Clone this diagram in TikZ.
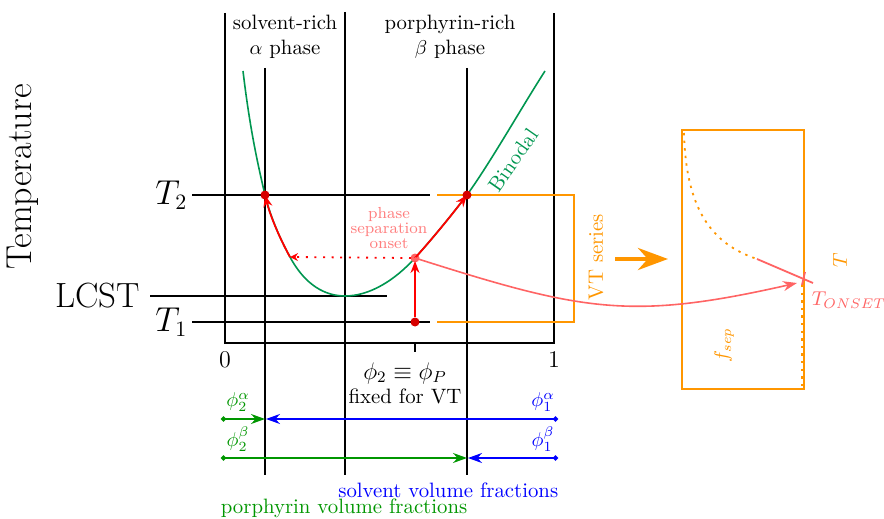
\documentclass[tikz,border=0pt]{standalone}
\usetikzlibrary{arrows.meta}
\definecolor{binodal}{RGB}{0,150,80}
\definecolor{fgreen}{RGB}{0,150,0}
\definecolor{vtorange}{RGB}{255,150,0}
\definecolor{salmon}{RGB}{255,100,100}
\definecolor{onsettext}{RGB}{255,125,125}
\definecolor{darkdot}{RGB}{215,0,0}
\begin{document}
\fontsize{10.4}{12.5}\selectfont
\begin{tikzpicture}[x=0.5pt,y=-0.5pt,line width=0.8pt,
  axisline/.style={black,line width=0.8pt},
  binodalline/.style={binodal,line width=0.8pt},
  redarrow/.style={red,line width=0.9pt,-{Stealth[length=6pt,width=4.5pt]}},
  reddot/.style={circle,fill=darkdot,inner sep=0pt,minimum size=4.5pt},
  onsetdot/.style={circle,fill=salmon,inner sep=0pt,minimum size=4.5pt},
  orangeline/.style={vtorange,line width=1pt},
  fracgreen/.style={fgreen,line width=0.8pt,{Circle[length=2.5pt]}-{Stealth[length=7pt,width=5pt]}},
  fracblue/.style={blue,line width=0.8pt,{Circle[length=2.5pt]}-{Stealth[length=7pt,width=5pt]}},
  bigtext/.style={font=\fontsize{16}{19}\selectfont,inner sep=1pt},
  hugetext/.style={font=\fontsize{18}{21}\selectfont,inner sep=1pt},
  smalldot/.style={dash pattern=on 1pt off 3.3pt}
]
\useasboundingbox (0,0) rectangle (884,519);

% ---------- coordinates ----------
\coordinate (fl1) at (225,13);  \coordinate (fl2) at (225,343);
\coordinate (fr1) at (554,13);  \coordinate (fr2) at (554,343);
\coordinate (m1) at (345,12);   \coordinate (m2) at (345,475);
\coordinate (al1) at (265,68);  \coordinate (al2) at (265,475);
\coordinate (be1) at (467,68);  \coordinate (be2) at (467,475);
\coordinate (tk1) at (415,343); \coordinate (tk2) at (415,352);
\coordinate (t2a) at (192,195); \coordinate (t2b) at (430,195);
\coordinate (t1a) at (192,322); \coordinate (t1b) at (430,322);
\coordinate (la) at (150,296);  \coordinate (lb) at (387,296);
\coordinate (b0) at (243,71);
\coordinate (b1) at (265,195);
\coordinate (b2) at (290,257);
\coordinate (b3) at (345,296);
\coordinate (b4) at (415,258);
\coordinate (b5) at (467,195);
\coordinate (b6) at (545,71);

% ---------- frame and grid lines ----------
\draw[axisline] (fl1) -- (fl2) -- (fr2) -- (fr1);
\draw[axisline] (m1) -- (m2);
\draw[axisline] (al1) -- (al2);
\draw[axisline] (be1) -- (be2);
\draw[axisline] (tk1) -- (tk2);
\draw[axisline] (t2a) -- (t2b);
\draw[axisline] (t1a) -- (t1b);
\draw[axisline] (la) -- (lb);

% ---------- binodal ----------
\draw[binodalline] (b0) .. controls (250,130) and (258,165) .. (b1)
  .. controls (270,215) and (279,237) .. (b2)
  .. controls (305,285) and (325,296) .. (b3)
  .. controls (370,296) and (395,280) .. (b4)
  .. controls (433,238) and (450,217) .. (b5)
  .. controls (492,160) and (520,110) .. (b6);
\node[binodal,rotate=55,inner sep=1pt] (binlab) at (513,160) {Binodal};

% ---------- orange VT box ----------
\coordinate (o1) at (437,195); \coordinate (o2) at (574,195);
\coordinate (o3) at (574,322); \coordinate (o4) at (437,322);
\draw[orangeline] (o1) -- (o2) -- (o3) -- (o4);
\node[vtorange,rotate=90] (vts) at (596,257) {VT series};

% ---------- red path ----------
\node[reddot] (p1) at (415,322) {};
\node[onsetdot] (pon) at (b4) {};
\draw[redarrow] (p1) -- (415,261) coordinate (p1e);
\draw[redarrow] (b4) .. controls (433,238) and (450,217) .. (b5);
\draw[redarrow] (b2) .. controls (279,237) and (270,215) .. (b1);
\draw[red,line width=0.9pt,smalldot,-{Stealth[length=4pt,width=4pt]}] (411,258) -- (b2);
\node[reddot] (pb) at (b5) {};
\node[reddot] (pa) at (b1) {};
\node[onsettext,font=\footnotesize,align=center,inner sep=0pt] (onsetlab) at (389,228)
  {phase\\[-2pt]separation\\[-2pt]onset};

% ---------- right panel ----------
\coordinate (r1) at (682,130); \coordinate (r2) at (804,389);
\draw[orangeline] (r1) rectangle (r2);
\coordinate (c0) at (684,133); \coordinate (c1) at (757,259);
\coordinate (c2) at (813,283);
\draw[vtorange,line width=0.9pt,dash pattern=on 1.2pt off 2.6pt] (c0) .. controls (686,210) and (712,244) .. (c1);
\draw[salmon,line width=0.9pt] (c1) -- (c2);
\coordinate (x1) at (805,272); \coordinate (x2) at (802,285);
\draw[salmon,line width=0.9pt] (x1) -- (x2);
\coordinate (v2) at (802,388);
\draw[vtorange,line width=0.9pt,dash pattern=on 1.2pt off 2.6pt] (x2) -- (v2);
\coordinate (onsetend) at (797,283);
\draw[salmon,line width=0.8pt,-{Stealth[length=7pt,width=5pt]}] (b4) .. controls (582,311) and (630,321) .. (onsetend);
\node[salmon,anchor=west,inner sep=0pt] (tonset) at (811,300) {$T_{ONSET}$};
\node[vtorange,rotate=90] (fsep) at (724,345) {$f_{sep}$};
\node[vtorange,rotate=90] (tlab) at (840,260) {$T$};
\coordinate (oa1) at (615,259); \coordinate (oa2) at (668,259);
\draw[vtorange,line width=2.2pt,-{Stealth[length=15pt,width=11pt]}] (oa1) -- (oa2);

% ---------- axis labels ----------
\node[bigtext,anchor=east] (T2) at (190,195) {$T_2$};
\node[bigtext,anchor=east] (T1) at (190,322) {$T_1$};
\node[hugetext,anchor=east,font=\fontsize{17.5}{21}\selectfont] (lcst) at (143,296) {LCST};
\node[hugetext,rotate=90] (temp) at (23,177) {Temperature};
\node[align=center,inner sep=0pt] (solv) at (285,37) {solvent-rich\\$\alpha$ phase};
\node[align=center,inner sep=0pt] (porph) at (450,37) {porphyrin-rich\\$\beta$ phase};
\node (zero) at (225,360) {\large 0};
\node (one) at (554,360) {\large 1};
\node (phi) at (405,373) {\large $\phi_2\equiv\phi_P$};
\node (fixed) at (405,396) {fixed for VT};

% ---------- volume fraction arrows ----------
\coordinate (g1s) at (221,419); \coordinate (g1e) at (265,419);
\coordinate (u1s) at (558,419); \coordinate (u1e) at (266,419);
\coordinate (g2s) at (221,458); \coordinate (g2e) at (467,458);
\coordinate (u2s) at (558,458); \coordinate (u2e) at (468,458);
\draw[fracgreen] (g1s) -- (g1e);
\draw[fracblue] (u1s) -- (u1e);
\draw[fracgreen] (g2s) -- (g2e);
\draw[fracblue] (u2s) -- (u2e);
\node[fgreen,inner sep=1pt] (p2a) at (238,402) {$\phi_2^\alpha$};
\node[fgreen,inner sep=1pt] (p2b) at (238,439) {$\phi_2^\beta$};
\node[blue,inner sep=1pt] (p1a) at (543,402) {$\phi_1^\alpha$};
\node[blue,inner sep=1pt] (p1b) at (543,439) {$\phi_1^\beta$};
\node[blue,anchor=east,inner sep=0pt] (svf) at (559,490) {solvent volume fractions};
\node[fgreen,anchor=west,inner sep=0pt] (pvf) at (220,508) {porphyrin volume fractions};
\end{tikzpicture}
\end{document}
